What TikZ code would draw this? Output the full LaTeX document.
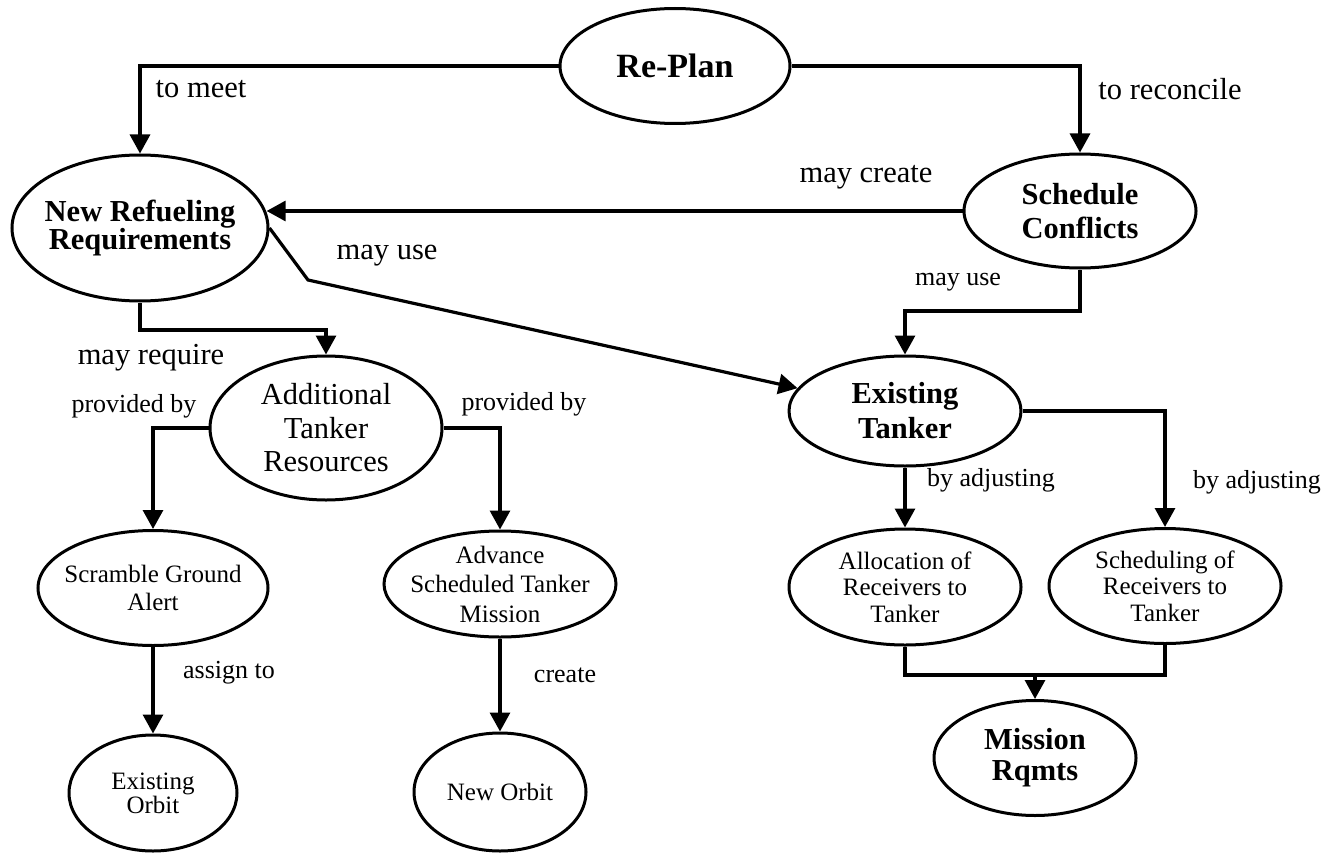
\documentclass[tikz,border=0pt]{standalone}
\usepackage{fontspec}
\setmainfont{Liberation Serif}
\usetikzlibrary{shapes.geometric,arrows.meta}
\begin{document}
\begin{tikzpicture}[x=1pt,y=-1pt,
  oval/.style={draw, ellipse, line width=3pt, inner sep=0pt},
  ctr/.style={align=center, inner sep=0pt},
  bigb/.style={ctr, font=\fontsize{30.5}{#1}\selectfont\bfseries},
  bigr/.style={ctr, font=\fontsize{30.5}{#1}\selectfont},
  smallr/.style={ctr, font=\fontsize{25}{#1}\selectfont},
  link/.style={line width=3.2pt},
  arr/.style={link, -{Triangle[length=19pt,width=20pt]}},
  lbl/.style={inner sep=0pt, text height=0.7em, text depth=0.25em},
  biglbl/.style={lbl, font=\fontsize{30.5}{34}\selectfont},
  smalllbl/.style={lbl, font=\fontsize{26}{28}\selectfont}]
\useasboundingbox (0,0) rectangle (1332,853);

% concept ellipses
\node[oval, minimum width=230pt, minimum height=115pt,
  label={[ctr, font=\fontsize{34}{36}\selectfont\bfseries]center:Re-Plan}] (rp) at (675,66) {};
\node[oval, minimum width=256pt, minimum height=146pt,
  label={[bigb=27]center:New Refueling\\Requirements}] (nr) at (140,228) {};
\node[oval, minimum width=232pt, minimum height=114pt,
  label={[bigb=34]center:Schedule\\Conflicts}] (sc) at (1080,211) {};
\node[oval, minimum width=232pt, minimum height=144pt,
  label={[bigr=33.5]center:Additional\\Tanker\\Resources}] (at) at (326,428) {};
\node[oval, minimum width=232pt, minimum height=110pt,
  label={[bigb=35]center:Existing\\Tanker}] (et) at (905,411) {};
\node[oval, minimum width=230pt, minimum height=115pt,
  label={[smallr=28]center:Scramble Ground\\Alert}] (sg) at (153,588) {};
\node[oval, minimum width=232pt, minimum height=106pt,
  label={[smallr=29.5]center:Advance\\Scheduled Tanker\\Mission}] (av) at (500,584) {};
\node[oval, minimum width=168pt, minimum height=116pt,
  label={[smallr=24]center:Existing\\Orbit}] (eo) at (153,793) {};
\node[oval, minimum width=172pt, minimum height=118pt,
  label={[smallr=28]center:New Orbit}] (no) at (500,792) {};
\node[oval, minimum width=232pt, minimum height=116pt,
  label={[smallr=26.5]center:Allocation of\\Receivers to\\Tanker}] (al) at (905,587) {};
\node[oval, minimum width=232pt, minimum height=115pt,
  label={[smallr=26.5]center:Scheduling of\\Receivers to\\Tanker}] (sh) at (1165,586) {};
\node[oval, minimum width=202pt, minimum height=115pt,
  label={[bigb=31]center:Mission\\Rqmts}] (mr) at (1035,758) {};

% bend and junction points
\coordinate (bend) at (308,280);
\coordinate (j1) at (905,311);
\coordinate (j2) at (326,330);
\coordinate (j3) at (1035,675);

% connectors
\draw[arr] (rp.west) -| (nr.north);
\draw[arr] (rp.east) -| (sc.north);
\draw[arr] (sc.west) -- (sc.west -| nr.7);
\draw[arr] (nr.east) -- (bend) -- (et.168);
\draw[arr] (sc.south) |- (j1) -- (et.north);
\draw[arr] (nr.south) |- (j2) -- (at.north);
\draw[arr] (at.west) -| (sg.north);
\draw[arr] (at.east) -| (av.north);
\draw[arr] (sg.south) -- (eo.north);
\draw[arr] (av.south) -- (no.north);
\draw[arr] (et.south) -- (al.north);
\draw[arr] (et.east) -| (sh.north);
\draw[link] (al.south) |- (j3) -| (sh.south);
\draw[arr] (j3) -- (mr.north);

% connector labels
\node[biglbl] (l1) at (201,95) {to meet};
\node[biglbl] (l2) at (1170,97) {to reconcile};
\node[biglbl] (l3) at (866,180) {may create};
\node[biglbl] (l4) at (387,257) {may use};
\node[smalllbl] (l5) at (958,283) {may use};
\node[biglbl] (l6) at (151,362) {may require};
\node[smalllbl] (l7) at (134,410) {provided by};
\node[smalllbl] (l8) at (524,408) {provided by};
\node[smalllbl] (l9) at (229,676) {assign to};
\node[smalllbl] (l10) at (565,680) {create};
\node[smalllbl] (l11) at (991,484) {by adjusting};
\node[smalllbl] (l12) at (1257,486) {by adjusting};
\end{tikzpicture}
\end{document}
